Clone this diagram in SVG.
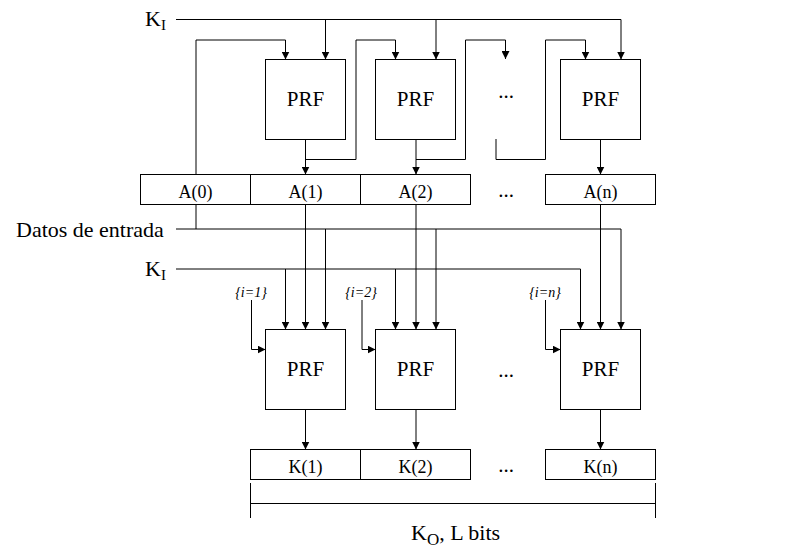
<svg xmlns="http://www.w3.org/2000/svg" width="787" height="552" viewBox="0 0 787 552" font-family="'Liberation Serif', 'DejaVu Serif', serif">
<style>
  .box{fill:#fff;stroke:#000;stroke-width:1}
  .ln{fill:none;stroke:#000;stroke-width:1}
  .arr{fill:none;stroke:#000;stroke-width:1;marker-end:url(#ah)}
  text{font-family:'Liberation Serif','DejaVu Serif',serif;fill:#000}
  .prf{font-size:21px;text-anchor:middle}
  .reg{font-size:18px;text-anchor:middle}
  .dots{font-size:21px;text-anchor:middle}
  .lbl{font-size:22px}
  .idx{font-size:14px;font-style:italic;text-anchor:middle}
</style>
<defs>
  <marker id="ah" markerUnits="userSpaceOnUse" markerWidth="8" markerHeight="8" refX="8" refY="4" orient="auto">
    <path d="M0,0 L8,4 L0,8 z" fill="#000"/>
  </marker>
</defs>

<g id="connectors">
  <path class="arr" d="M176,19.5 H621 V59.5"/>
  <path class="arr" d="M325.5,19.5 V59.5"/>
  <path class="arr" d="M436,19.5 V59.5"/>
  <path class="arr" d="M196,174 V40 H285.5 V59.5"/>
  <path class="arr" d="M305.5,139.5 V174.5"/>
  <path class="arr" d="M305.5,159.5 H356 V40 H395.5 V59.5"/>
  <path class="arr" d="M416,139.5 V174.5"/>
  <path class="arr" d="M416,159.5 H465.5 V40 H505.5 V59"/>
  <path class="arr" d="M496,139 V159.5 H545.5 V40 H585.5 V59.5"/>
  <path class="arr" d="M600.5,139.5 V174.5"/>
  <path class="ln" d="M196,204.5 V229"/>
  <path class="arr" d="M176,229 H621 V329.5"/>
  <path class="arr" d="M325.5,229 V329.5"/>
  <path class="arr" d="M436,229 V329.5"/>
  <path class="arr" d="M305.5,204.5 V329.5"/>
  <path class="arr" d="M416,204.5 V329.5"/>
  <path class="arr" d="M600.5,204.5 V329.5"/>
  <path class="arr" d="M176,269 H580.5 V329.5"/>
  <path class="arr" d="M285.5,269 V329.5"/>
  <path class="arr" d="M395.5,269 V329.5"/>
  <path class="arr" d="M251.5,300 V349.5 H265.5"/>
  <path class="arr" d="M362,300 V349.5 H375.5"/>
  <path class="arr" d="M545.5,300 V349.5 H560.5"/>
  <path class="arr" d="M305.5,409.5 V449.5"/>
  <path class="arr" d="M416,409.5 V449.5"/>
  <path class="arr" d="M600.5,409.5 V449.5"/>
  <path class="ln" d="M250.5,483 V518 M655.5,483 V518 M250.5,503.5 H655.5"/>
</g>

<g id="labels">
  <text class="lbl" x="145" y="26">K<tspan font-size="15" dy="4">I</tspan></text>
  <text class="lbl" x="16" y="237">Datos de entrada</text>
  <text class="lbl" x="145" y="276">K<tspan font-size="15" dy="4">I</tspan></text>
  <text class="idx" x="251" y="297">{i=1}</text>
  <text class="idx" x="361" y="297">{i=2}</text>
  <text class="idx" x="545" y="297">{i=n}</text>
  <text class="dots" x="506" y="98">...</text>
  <text class="dots" x="506" y="197">...</text>
  <text class="dots" x="506" y="377">...</text>
  <text class="dots" x="506" y="472">...</text>
  <text class="lbl" x="411" y="540">K<tspan font-size="17" dy="5">O</tspan><tspan dy="-5">, L bits</tspan></text>
</g>

<g id="prf-top-1"><rect class="box" x="265.5" y="59.5" width="80" height="80"/><text class="prf" x="305.5" y="106">PRF</text></g>
<g id="prf-top-2"><rect class="box" x="375.5" y="59.5" width="80" height="80"/><text class="prf" x="415.5" y="106">PRF</text></g>
<g id="prf-top-n"><rect class="box" x="560.5" y="59.5" width="80" height="80"/><text class="prf" x="600.5" y="106">PRF</text></g>

<g id="a0"><rect class="box" x="140.5" y="174.5" width="110" height="30"/><text class="reg" x="195.5" y="198">A(0)</text></g>
<g id="a1"><rect class="box" x="250.5" y="174.5" width="110" height="30"/><text class="reg" x="305.5" y="198">A(1)</text></g>
<g id="a2"><rect class="box" x="360.5" y="174.5" width="110" height="30"/><text class="reg" x="415.5" y="198">A(2)</text></g>
<g id="an"><rect class="box" x="545.5" y="174.5" width="110" height="30"/><text class="reg" x="600.5" y="198">A(n)</text></g>

<g id="prf-bot-1"><rect class="box" x="265.5" y="329.5" width="80" height="80"/><text class="prf" x="305.5" y="376">PRF</text></g>
<g id="prf-bot-2"><rect class="box" x="375.5" y="329.5" width="80" height="80"/><text class="prf" x="415.5" y="376">PRF</text></g>
<g id="prf-bot-n"><rect class="box" x="560.5" y="329.5" width="80" height="80"/><text class="prf" x="600.5" y="376">PRF</text></g>

<g id="k1"><rect class="box" x="250.5" y="449.5" width="110" height="30"/><text class="reg" x="305.5" y="473">K(1)</text></g>
<g id="k2"><rect class="box" x="360.5" y="449.5" width="110" height="30"/><text class="reg" x="415.5" y="473">K(2)</text></g>
<g id="kn"><rect class="box" x="545.5" y="449.5" width="110" height="30"/><text class="reg" x="600.5" y="473">K(n)</text></g>
</svg>
